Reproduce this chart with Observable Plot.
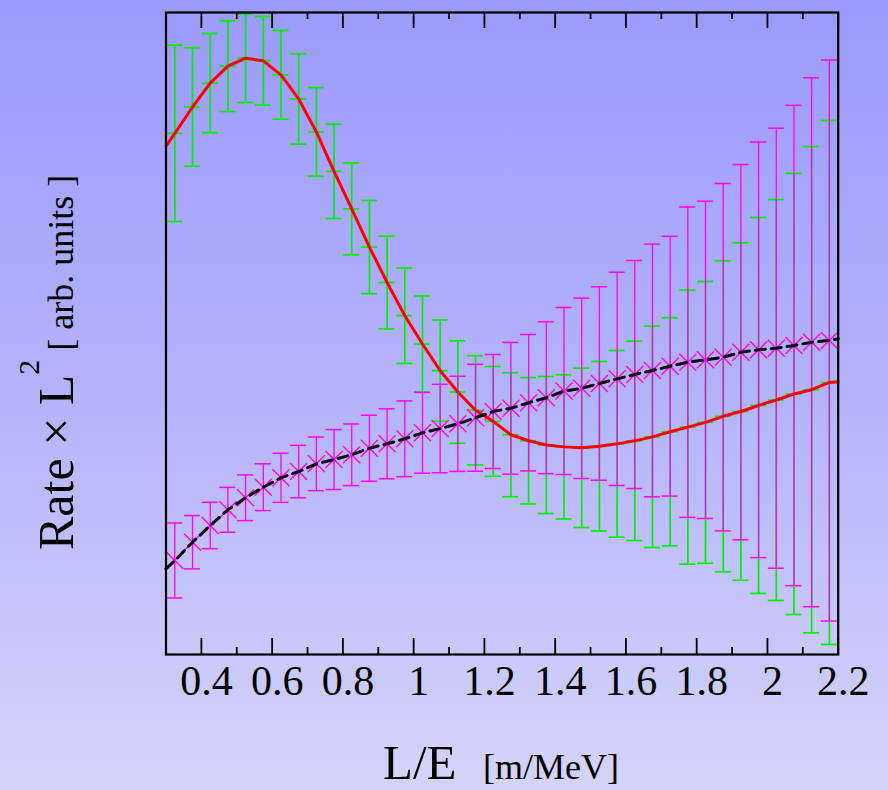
<!DOCTYPE html>
<html>
<head>
<meta charset="utf-8">
<script src="https://cdn.jsdelivr.net/npm/d3@7"></script>
<script src="https://cdn.jsdelivr.net/npm/@observablehq/plot@0.6"></script>
<style>
  html, body { margin: 0; padding: 0; background: #b6b6fc; }
  #chart svg { display: block; }
</style>
</head>
<body>
<div id="chart"></div>
<script>
// L/E bin centres [m/MeV]
const lOverE = [0.325, 0.375, 0.425, 0.475, 0.525, 0.575, 0.625, 0.675, 0.725, 0.775,
  0.825, 0.875, 0.925, 0.975, 1.025, 1.075, 1.125, 1.175, 1.225, 1.275,
  1.325, 1.375, 1.425, 1.475, 1.525, 1.575, 1.625, 1.675, 1.725, 1.775,
  1.825, 1.875, 1.925, 1.975, 2.025, 2.075, 2.125, 2.175];

// oscillation hypothesis (green points, red curve)
const oscValue = [8.118, 8.528, 8.900, 9.164, 9.289, 9.247, 9.029, 8.653, 8.141, 7.526,
  6.941, 6.346, 5.794, 5.277, 4.836, 4.421, 4.088, 3.804, 3.631, 3.423,
  3.329, 3.263, 3.234, 3.219, 3.244, 3.281, 3.328, 3.390, 3.469, 3.541,
  3.616, 3.710, 3.785, 3.879, 3.964, 4.058, 4.125, 4.237];
const oscError = [1.374, 0.922, 0.773, 0.706, 0.691, 0.691, 0.691, 0.704, 0.691, 0.734,
  0.715, 0.726, 0.722, 0.744, 0.748, 0.789, 0.798, 0.850, 0.855, 0.966,
  0.983, 1.067, 1.123, 1.241, 1.320, 1.454, 1.552, 1.724, 1.776, 2.134,
  2.194, 2.422, 2.628, 2.928, 3.123, 3.435, 3.787, 4.081];
const oscCurveEnds = [7.92, 4.25]; // at L/E = 0.3 and 2.2

// no-oscillation hypothesis (magenta points, black dashed curve)
const noOscValue = [1.464, 1.749, 2.009, 2.254, 2.441, 2.606, 2.752, 2.850, 2.970, 3.037,
  3.111, 3.213, 3.282, 3.360, 3.453, 3.520, 3.593, 3.687, 3.785, 3.835,
  3.922, 4.000, 4.104, 4.146, 4.221, 4.294, 4.361, 4.424, 4.491, 4.553,
  4.590, 4.631, 4.709, 4.746, 4.771, 4.813, 4.864, 4.891];
const noOscError = [0.584, 0.415, 0.361, 0.350, 0.356, 0.364, 0.382, 0.408, 0.418, 0.467,
  0.480, 0.514, 0.545, 0.590, 0.629, 0.689, 0.741, 0.833, 0.888, 1.026,
  1.063, 1.183, 1.301, 1.405, 1.506, 1.661, 1.776, 1.968, 2.023, 2.417,
  2.471, 2.706, 2.923, 3.237, 3.427, 3.741, 4.120, 4.369];
const noOscCurveEnds = [1.335, 4.92];

const xDomain = [0.3, 2.2];
const yDomain = [0, 10];
const majorTicks = [0.4, 0.6, 0.8, 1, 1.2, 1.4, 1.6, 1.8, 2, 2.2];
const minorTicks = [0.5, 0.7, 0.9, 1.1, 1.3, 1.5, 1.7, 1.9, 2.1];

// ---- derived tables ----
const rows = lOverE.map((x, i) => ({
  x, g: oscValue[i], ge: oscError[i], m: noOscValue[i], me: noOscError[i]
}));
const greenCaps = rows.flatMap(d => [
  {x: d.x, y: d.g - d.ge}, {x: d.x, y: d.g}, {x: d.x, y: d.g + d.ge}
]);
const magentaCaps = rows.flatMap(d => [
  {x: d.x, y: d.m - d.me}, {x: d.x, y: d.m + d.me}
]);
const redCurve = [
  {x: xDomain[0], y: oscCurveEnds[0]},
  ...rows.map(d => ({x: d.x, y: d.g})),
  {x: xDomain[1], y: oscCurveEnds[1]}
];
const blackCurve = [
  {x: xDomain[0], y: noOscCurveEnds[0]},
  ...rows.map(d => ({x: d.x, y: d.m})),
  {x: xDomain[1], y: noOscCurveEnds[1]}
];

const W = 888, H = 790;
const mTop = 12, mBottom = 136, mLeft = 165.5, mRight = 50.3;
const innerH = H - mTop - mBottom;
const pxToY = px => px * (yDomain[1] - yDomain[0]) / innerH; // tick length in y units
const GREEN = "#00f000", MAGENTA = "#ff00ff";
const SERIF = "'Liberation Serif', 'Times New Roman', serif";

const inwardTicks = (ticks, len) => [
  Plot.ruleX(ticks, {x: d => d, y1: yDomain[0], y2: yDomain[0] + pxToY(len), stroke: "black", strokeWidth: 1.8}),
  Plot.ruleX(ticks, {x: d => d, y1: yDomain[1] - pxToY(len), y2: yDomain[1], stroke: "black", strokeWidth: 1.8})
];

const chart = Plot.plot({
  width: W,
  height: H,
  marginTop: mTop,
  marginBottom: mBottom,
  marginLeft: mLeft,
  marginRight: mRight,
  style: {
    background: "linear-gradient(to bottom, #9a9afd 0%, #b3b3fc 50%, #d4d4fa 100%)",
    fontFamily: SERIF,
    color: "black"
  },
  x: {domain: xDomain},
  y: {domain: yDomain, axis: null},
  marks: [
    // green (oscillation) error bars
    Plot.ruleX(rows, {x: "x", y1: d => d.g - d.ge, y2: d => d.g + d.ge, stroke: GREEN, strokeWidth: 1.7}),
    Plot.ruleY(greenCaps, {y: "y", x1: "x", x2: "x", insetLeft: -8, insetRight: -8, stroke: GREEN, strokeWidth: 1.7}),
    // magenta (no oscillation) error bars
    Plot.ruleX(rows, {x: "x", y1: d => d.m - d.me, y2: d => d.m + d.me, stroke: MAGENTA, strokeWidth: 1.3}),
    Plot.ruleY(magentaCaps, {y: "y", x1: "x", x2: "x", insetLeft: -8, insetRight: -8, stroke: MAGENTA, strokeWidth: 1.5}),
    Plot.dot(rows, {x: "x", y: "m", symbol: "times", r: 7.8, stroke: MAGENTA, strokeWidth: 1.4}),
    // curves
    Plot.line(redCurve, {x: "x", y: "y", stroke: "#ff0000", strokeWidth: 3}),
    Plot.line(blackCurve, {x: "x", y: "y", stroke: "black", strokeWidth: 3, strokeDasharray: "10,6"}),
    // inward ticks on bottom and top edges
    ...inwardTicks(majorTicks, 16),
    ...inwardTicks(minorTicks, 7),
    Plot.frame({stroke: "black", strokeWidth: 2.2}),
    Plot.axisX({
      ticks: majorTicks, tickSize: 0, tickPadding: 11, fontSize: 42, dx: 5,
      tickFormat: d => String(+d.toFixed(1)), label: null
    })
  ]
});

const svg = d3.select(chart);
// y axis title
const yl = svg.append("text")
  .attr("transform", "translate(73,550) rotate(-90)")
  .attr("fill", "black")
  .attr("font-family", SERIF)
  .attr("font-size", 50)
  .attr("text-anchor", "start");
yl.append("tspan").text("Rate \u00d7 L");
yl.append("tspan").attr("font-size", 30).attr("dy", -34).text("2");
yl.append("tspan").attr("font-size", 36).attr("dy", 34).text(" [ arb. units ]");
// x axis title
svg.append("text")
  .attr("x", 383).attr("y", 779)
  .attr("fill", "black")
  .attr("font-family", SERIF)
  .attr("font-size", 49)
  .attr("text-anchor", "start")
  .text("L/E");
svg.append("text")
  .attr("x", 483).attr("y", 779)
  .attr("fill", "black")
  .attr("font-family", SERIF)
  .attr("font-size", 36)
  .attr("text-anchor", "start")
  .text("[m/MeV]");

document.getElementById("chart").appendChild(chart);
</script>
</body>
</html>
